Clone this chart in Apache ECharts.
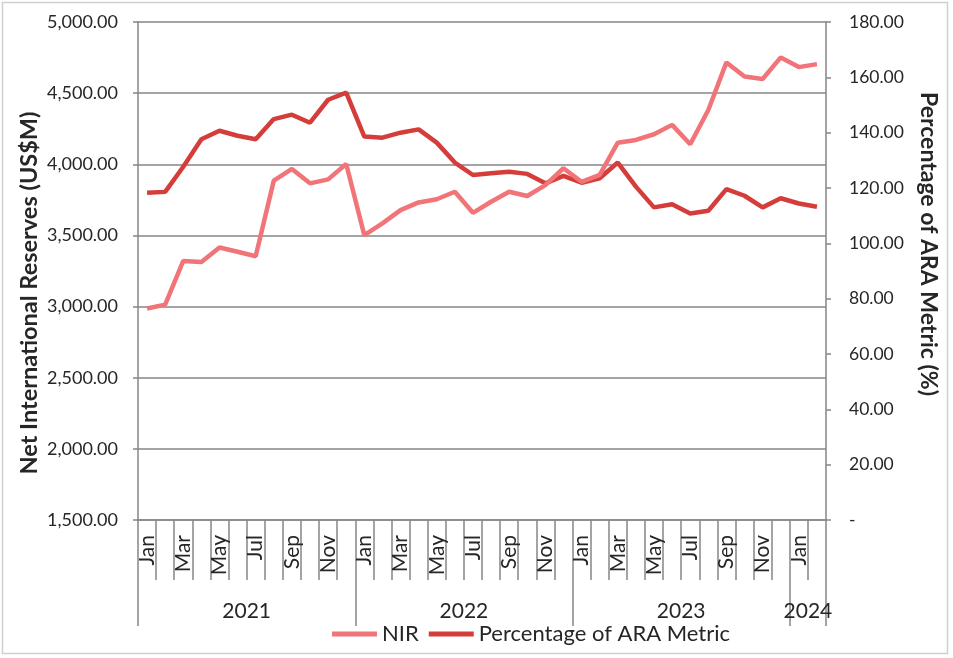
<!DOCTYPE html>
<html>
<head>
<meta charset="utf-8">
<script src="https://cdn.jsdelivr.net/npm/echarts@6/dist/echarts.min.js"></script>
<style>
html,body{margin:0;padding:0;background:#fff;}
#chart{width:953px;height:658px;}
</style>
</head>
<body>
<div id="chart"></div>
<script>
const months = ['Jan','Feb','Mar','Apr','May','Jun','Jul','Aug','Sep','Oct','Nov','Dec',
  'Jan','Feb','Mar','Apr','May','Jun','Jul','Aug','Sep','Oct','Nov','Dec',
  'Jan','Feb','Mar','Apr','May','Jun','Jul','Aug','Sep','Oct','Nov','Dec',
  'Jan','Feb'];
const years = ['2021','2022','2023','2024'];
const yearCenters = [6, 18, 30, 37];
const yearBounds = [0, 12, 24, 36, 38];
const nir = [2986, 3014, 3321, 3314, 3415, 3385, 3354, 3885, 3967, 3866, 3894, 4002,
  3502, 3585, 3678, 3732, 3754, 3807, 3659, 3737, 3807, 3777, 3854, 3972,
  3877, 3925, 4152, 4171, 4211, 4277, 4141, 4382, 4716, 4617, 4599, 4751,
  4683, 4704];
const ara = [118.3, 118.6, 127.7, 137.6, 140.7, 138.9, 137.6, 144.9, 146.5, 143.6, 151.9, 154.5,
  138.6, 138.2, 140.0, 141.2, 136.4, 129.2, 124.7, 125.3, 125.9, 125.1, 121.7, 124.4,
  121.9, 123.5, 129.2, 120.5, 113.0, 114.1, 110.8, 111.8, 119.6, 117.2, 113.0, 116.3,
  114.4, 113.2];

const FONT = 'Lato, "Open Sans", sans-serif';
const TXT = '#262626';
const AX = '#868686';

function fmtThousands(v) {
  const s = v.toFixed(2);
  const parts = s.split('.');
  parts[0] = parts[0].replace(/\B(?=(\d{3})+(?!\d))/g, ',');
  return parts.join('.');
}

const chart = echarts.init(document.getElementById('chart'), null, {renderer: 'canvas'});
chart.setOption({
  animation: false,
  textStyle: {fontFamily: FONT, color: TXT},
  grid: {left: 138, right: 127, top: 22, bottom: 138, containLabel: false},
  graphic: [
    {type: 'rect', shape: {x: 2.5, y: 2.5, width: 945, height: 651},
      style: {fill: 'none', stroke: '#d0d0d0', lineWidth: 1.5}, silent: true},
    {type: 'text', x: 29, y: 293, rotation: Math.PI / 2,
      style: {text: 'Net International Reserves (US$M)', fontFamily: FONT, fontWeight: 'bold',
        fontSize: 23.5, fill: TXT, align: 'center', verticalAlign: 'middle'}},
    {type: 'text', x: 928, y: 244, rotation: -Math.PI / 2,
      style: {text: 'Percentage of ARA Metric (%)', fontFamily: FONT, fontWeight: 'bold',
        fontSize: 23, fill: TXT, align: 'center', verticalAlign: 'middle'}}
  ],
  legend: {
    left: 332, top: 623, padding: 0,
    itemWidth: 45, itemHeight: 5, itemGap: 10,
    icon: 'rect',
    textStyle: {fontFamily: FONT, fontSize: 22, color: TXT},
    data: ['NIR', 'Percentage of ARA Metric']
  },
  xAxis: [
    {
      type: 'category', data: months, position: 'bottom', boundaryGap: true,
      axisLine: {show: true, lineStyle: {color: AX, width: 1.5}},
      axisTick: {show: true, interval: 0, length: 60, lineStyle: {color: AX, width: 1.5}},
      axisLabel: {interval: 1, rotate: 90, margin: 15, color: TXT, fontSize: 21, fontFamily: FONT},
      splitLine: {show: false}
    },
    {
      type: 'value', min: 0, max: 38, position: 'bottom',
      axisLine: {show: false},
      axisTick: {show: true, customValues: yearBounds, length: 106, lineStyle: {color: AX, width: 1.5}},
      axisLabel: {customValues: yearCenters, margin: 81, fontSize: 21, color: TXT, fontFamily: FONT,
        formatter: function (v) { return years[yearCenters.indexOf(v)]; }},
      splitLine: {show: false}
    }
  ],
  yAxis: [
    {
      type: 'value', min: 1500, max: 5000, interval: 500, position: 'left',
      axisLine: {show: true, lineStyle: {color: AX, width: 1.5}},
      axisTick: {show: true, length: 5, lineStyle: {color: AX, width: 1.5}},
      axisLabel: {margin: 20, fontSize: 18, color: TXT, fontFamily: FONT, formatter: fmtThousands},
      splitLine: {show: true, lineStyle: {color: AX, width: 1.5}}
    },
    {
      type: 'value', min: 0, max: 180, interval: 20, position: 'right',
      axisLine: {show: true, lineStyle: {color: AX, width: 1.5}},
      axisTick: {show: true, length: 5, lineStyle: {color: AX, width: 1.5}},
      axisLabel: {margin: 23, fontSize: 17.5, color: TXT, fontFamily: FONT,
        formatter: function (v) { return v === 0 ? '-' : v.toFixed(2); }},
      splitLine: {show: false}
    }
  ],
  series: [
    {name: 'NIR', type: 'line', data: nir, xAxisIndex: 0, yAxisIndex: 0, z: 3,
      symbol: 'none', lineStyle: {color: '#f07478', width: 4.5}, itemStyle: {color: '#f07478'}},
    {name: 'Percentage of ARA Metric', type: 'line', data: ara, xAxisIndex: 0, yAxisIndex: 1, z: 2,
      symbol: 'none', lineStyle: {color: '#d43d3a', width: 4.5}, itemStyle: {color: '#d43d3a'}}
  ]
});
</script>
</body>
</html>
